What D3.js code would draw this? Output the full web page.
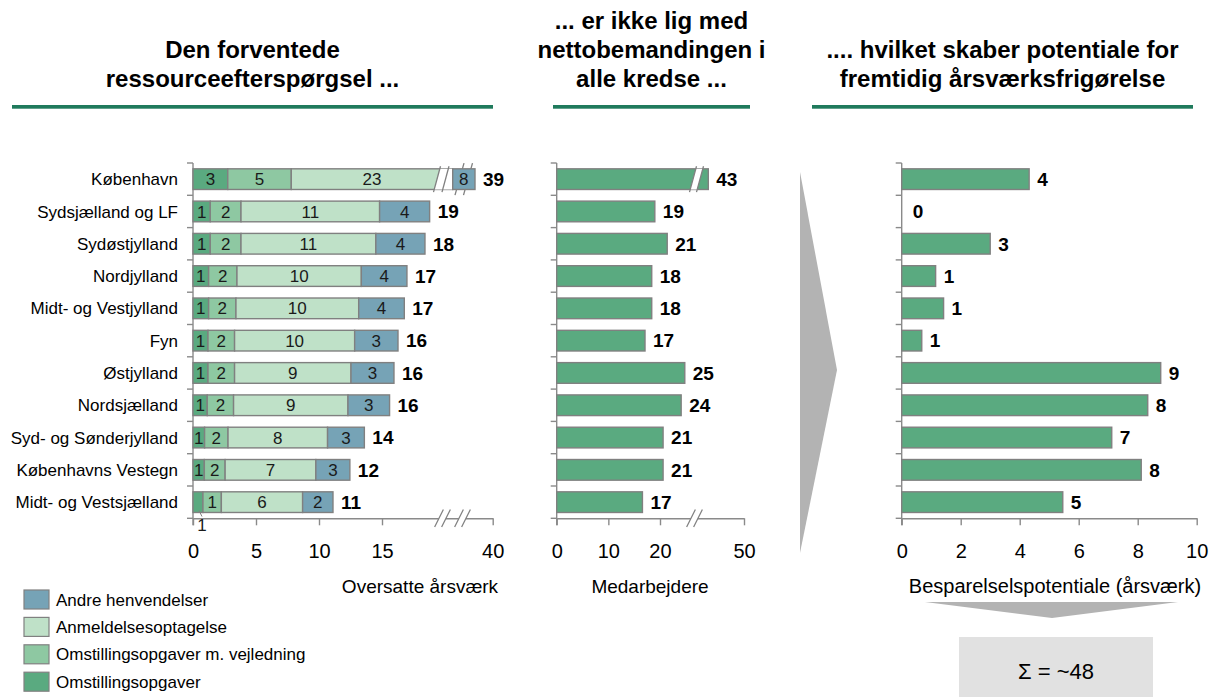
<!DOCTYPE html>
<html>
<head>
<meta charset="utf-8">
<script src="https://cdn.jsdelivr.net/npm/d3@7"></script>
<style>
  body { margin: 0; background: #fff; }
  svg { display: block; font-family: Arial, "Liberation Sans", sans-serif; }
</style>
</head>
<body>
<svg id="chart" width="1209" height="697"></svg>
<script>
// ---- data -----------------------------------------------------------
const kredse = ["København", "Sydsjælland og LF", "Sydøstjylland", "Nordjylland",
  "Midt- og Vestjylland", "Fyn", "Østjylland", "Nordsjælland",
  "Syd- og Sønderjylland", "Københavns Vestegn", "Midt- og Vestsjælland"];

// Oversatte årsværk per opgavetype
const omstilling        = [2.76, 1.37, 1.37, 1.24, 1.24, 1.19, 1.19, 1.13, 0.92, 0.90, 0.79];
const omstillingVejl    = [5.04, 2.44, 2.44, 2.25, 2.17, 2.11, 2.11, 2.09, 1.86, 1.65, 1.46];
const anmeldelse        = [23.0, 11.0, 10.7, 9.87, 9.74, 9.53, 9.24, 9.08, 7.90, 7.20, 6.45];
const andre             = [8.00, 3.97, 3.90, 3.62, 3.62, 3.44, 3.41, 3.30, 2.92, 2.70, 2.41];

// Nettobemanding (medarbejdere)
const medarbejdere      = [43, 19.0, 21.4, 18.4, 18.4, 17.1, 24.8, 24.1, 20.6, 20.6, 16.6];

// Besparelsespotentiale (årsværk)
const potentiale        = [4.32, 0, 3.0, 1.15, 1.42, 0.68, 8.78, 8.34, 7.12, 8.12, 5.46];

const serieNavne  = ["Omstillingsopgaver", "Omstillingsopgaver m. vejledning", "Anmeldelsesoptagelse", "Andre henvendelser"];
const serieFarver = ["#5aaa80", "#8ec8a2", "#bfe1c8", "#76a3b6"];

const ticksLeft  = [0, 5, 10, 15, 40];
const ticksMid   = [0, 10, 20, 50];
const ticksRight = [0, 2, 4, 6, 8, 10];

const titles = [
  { lines: ["Den forventede", "ressourceefterspørgsel ..."], x0: 12, x1: 493 },
  { lines: ["... er ikke lig med", "nettobemandingen i", "alle kredse ..."], x0: 553, x1: 750 },
  { lines: [".... hvilket skaber potentiale for", "fremtidig årsværksfrigørelse"], x0: 812, x1: 1193 }
];

// ---- setup ----------------------------------------------------------
const svg = d3.select("#chart");
const AXIS = "#8a8a8a", EDGE = "#808080", BAR = "#5aaa80";

const y = d3.scaleBand().domain(kredse).range([163, 518.3]).paddingInner(0.36).paddingOuter(0.18);
const bw = y.bandwidth(), step = y.step();
const yTop = 163, yBase = 518.3;

// broken axes: piecewise linear scales
const xL = d3.scaleLinear().domain([0, 19.5, 30.8, 38.8, 40]).range([193, 438.7, 452.7, 475, 492.7]);
const xM = d3.scaleLinear().domain([0, 25.5, 40, 50]).range([556.7, 688.4, 693, 744]);
const xR = d3.scaleLinear().domain([0, 10]).range([901.7, 1196.7]);

// ---- titles ---------------------------------------------------------
titles.forEach(t => {
  const cx = (t.x0 + t.x1) / 2;
  const n = t.lines.length;
  t.lines.forEach((ln, i) => {
    svg.append("text").attr("x", cx).attr("y", 87 - (n - 1 - i) * 29)
      .attr("text-anchor", "middle").attr("font-size", 24).attr("font-weight", "bold")
      .attr("fill", "#000").text(ln);
  });
  svg.append("rect").attr("x", t.x0).attr("y", 105).attr("width", t.x1 - t.x0).attr("height", 3.7)
    .attr("fill", "#1f7a5c");
});

// ---- helpers --------------------------------------------------------
function frame(x0) {
  svg.append("line").attr("x1", x0).attr("x2", x0).attr("y1", yTop).attr("y2", yBase + 7)
    .attr("stroke", AXIS).attr("stroke-width", 1.4);
  d3.range(12).forEach(k => {
    const yy = yTop + k * step;
    svg.append("line").attr("x1", x0 - 6).attr("x2", x0).attr("y1", yy).attr("y2", yy)
      .attr("stroke", AXIS).attr("stroke-width", 1.4);
  });
}

function xAxis(scale, ticks) {
  const g = svg.append("g").attr("transform", `translate(0,${yBase})`)
    .call(d3.axisBottom(scale).tickValues(ticks).tickSize(7).tickSizeOuter(0).tickFormat(d3.format("d")));
  g.select(".domain").attr("stroke", AXIS).attr("stroke-width", 1.4);
  g.selectAll(".tick line").attr("stroke", AXIS).attr("stroke-width", 1.4);
  g.selectAll(".tick text").attr("y", 26).attr("font-size", 20)
    .attr("font-family", "Arial, 'Liberation Sans', sans-serif").attr("fill", "#000");
  return g;
}

// pair of slanted break marks with a white gap between them
function breakPair(xa, xb, yc, half, slant, fillTo) {
  const g = svg.append("g");
  const right = fillTo !== undefined ? fillTo : xb;
  g.append("path")
    .attr("d", `M${xa + slant},${yc - half}L${right + (fillTo !== undefined ? 0 : slant)},${yc - half}` +
               `L${right - (fillTo !== undefined ? 0 : slant)},${yc + half}L${xa - slant},${yc + half}Z`)
    .attr("fill", "#fff");
  [xa, xb].forEach(xx => {
    g.append("line").attr("x1", xx + slant * 1.25).attr("y1", yc - half * 1.25)
      .attr("x2", xx - slant * 1.25).attr("y2", yc + half * 1.25)
      .attr("stroke", EDGE).attr("stroke-width", 1.3);
  });
  return g;
}

function slash(xx, yc, half, slant) {
  svg.append("line").attr("x1", xx + slant).attr("y1", yc - half)
    .attr("x2", xx - slant).attr("y2", yc + half)
    .attr("stroke", EDGE).attr("stroke-width", 1.3);
}

// ---- category labels ------------------------------------------------
svg.append("g").selectAll("text").data(kredse).join("text")
  .attr("x", 178).attr("y", d => y(d) + bw / 2).attr("dy", "0.36em")
  .attr("text-anchor", "end").attr("font-size", 17).attr("fill", "#000").text(d => d);

// ---- left panel: stacked bars --------------------------------------
frame(193);
const axL = xAxis(xL, ticksLeft);
// axis break marks
breakPair(439, 446, yBase, 7, 3.5);
breakPair(459, 466, yBase, 7, 3.5);

const keys = ["omst", "vejl", "anm", "andre"];
const rows = kredse.map((k, i) => ({
  kreds: k, omst: omstilling[i], vejl: omstillingVejl[i], anm: anmeldelse[i], andre: andre[i]
}));
const stacked = d3.stack().keys(keys)(rows);
const fmt = v => String(Math.round(v));
const maxPlain = xL.domain()[1];

function drawLayer(layer, li) {
  const g = svg.append("g");
  g.selectAll("rect").data(layer).join("rect")
    .attr("x", d => xL(d[0])).attr("y", d => y(d.data.kreds))
    .attr("width", d => xL(d[1]) - xL(d[0])).attr("height", bw)
    .attr("fill", serieFarver[li]).attr("stroke", EDGE).attr("stroke-width", 1.4);
  layer.forEach(d => {
    const x0 = xL(d[0]), x1 = xL(d[1]), cy = y(d.data.kreds) + bw / 2;
    if (x1 - x0 > 10.5) {
      g.append("text").attr("x", (x0 + x1) / 2).attr("y", cy).attr("dy", "0.36em")
        .attr("text-anchor", "middle").attr("font-size", 17).attr("fill", "#1a1a1a")
        .text(fmt(d[1] - d[0]));
    } else {
      // narrow segment: label below the bar with a short leader
      const lx = (x0 + x1) / 2 + 4;
      g.append("line").attr("x1", (x0 + x1) / 2 + 1).attr("y1", cy + bw / 2 - 2)
        .attr("x2", lx).attr("y2", cy + bw / 2 + 4).attr("stroke", EDGE).attr("stroke-width", 1);
      g.append("text").attr("x", lx).attr("y", cy + bw / 2 + 19)
        .attr("text-anchor", "middle").attr("font-size", 17).attr("fill", "#1a1a1a")
        .text(fmt(d[1] - d[0]));
    }
  });
}

stacked.slice(0, 3).forEach((layer, li) => drawLayer(layer, li));

// bars that run past the axis break
rows.forEach((r, i) => {
  const total = r.omst + r.vejl + r.anm + r.andre;
  if (total <= maxPlain) return;
  const cy = y(r.kreds) + bw / 2;
  const restart = xL(r.omst + r.vejl + r.anm);
  breakPair(437, 445.5, cy, bw / 2, 2.8, restart);
  slash(459.5, cy, 16, 4.5);
  slash(468, cy, 16, 4.5);
});

drawLayer(stacked[3], 3);

// totals
svg.append("g").selectAll("text").data(rows).join("text")
  .attr("x", d => xL(d.omst + d.vejl + d.anm + d.andre) + 8)
  .attr("y", d => y(d.kreds) + bw / 2).attr("dy", "0.36em")
  .attr("font-size", 19).attr("font-weight", "bold").attr("fill", "#000")
  .text(d => fmt(d.omst + d.vejl + d.anm + d.andre));

svg.append("text").attr("x", 420).attr("y", 593).attr("text-anchor", "middle")
  .attr("font-size", 19).attr("fill", "#000").text("Oversatte årsværk");

// ---- middle panel ---------------------------------------------------
frame(556.7);
xAxis(xM, ticksMid);
breakPair(691, 698, yBase, 7, 3.5);

const mid = kredse.map((k, i) => ({ kreds: k, v: medarbejdere[i] }));
svg.append("g").selectAll("rect").data(mid).join("rect")
  .attr("x", xM(0)).attr("y", d => y(d.kreds))
  .attr("width", d => xM(d.v) - xM(0)).attr("height", bw)
  .attr("fill", BAR).attr("stroke", EDGE).attr("stroke-width", 1.4);
mid.filter(d => d.v > xM.domain()[1]).forEach(d => {
  breakPair(693, 700, y(d.kreds) + bw / 2, bw / 2, 2.8);
});
svg.append("g").selectAll("text").data(mid).join("text")
  .attr("x", d => xM(d.v) + 8).attr("y", d => y(d.kreds) + bw / 2).attr("dy", "0.36em")
  .attr("font-size", 19).attr("font-weight", "bold").attr("fill", "#000").text(d => fmt(d.v));

svg.append("text").attr("x", 650).attr("y", 593).attr("text-anchor", "middle")
  .attr("font-size", 19).attr("fill", "#000").text("Medarbejdere");

// ---- arrow between panels ------------------------------------------
svg.append("path").attr("d", "M800,172L837,370L800,553Z").attr("fill", "#b3b3b3");

// ---- right panel ----------------------------------------------------
frame(901.7);
xAxis(xR, ticksRight);

const pot = kredse.map((k, i) => ({ kreds: k, v: potentiale[i] }));
svg.append("g").selectAll("rect").data(pot.filter(d => d.v > 0)).join("rect")
  .attr("x", xR(0)).attr("y", d => y(d.kreds))
  .attr("width", d => xR(d.v) - xR(0)).attr("height", bw)
  .attr("fill", BAR).attr("stroke", EDGE).attr("stroke-width", 1.4);
svg.append("g").selectAll("text").data(pot).join("text")
  .attr("x", d => xR(d.v) + (d.v > 0 ? 8 : 11)).attr("y", d => y(d.kreds) + bw / 2).attr("dy", "0.36em")
  .attr("font-size", 19).attr("font-weight", "bold").attr("fill", "#000").text(d => fmt(d.v));

svg.append("text").attr("x", 1055).attr("y", 593).attr("text-anchor", "middle")
  .attr("font-size", 20).attr("fill", "#000").text("Besparelselspotentiale (årsværk)");

// summary chevron and box
svg.append("path").attr("d", "M925,602L1178,602L1052,618Z").attr("fill", "#b3b3b3");
svg.append("rect").attr("x", 959).attr("y", 637).attr("width", 194).attr("height", 62).attr("fill", "#e1e1e1");
svg.append("text").attr("x", 1056).attr("y", 679).attr("text-anchor", "middle")
  .attr("font-size", 22).attr("fill", "#000")
  .text("Σ = ~" + Math.round(d3.sum(potentiale)));

// ---- legend ---------------------------------------------------------
const legendOrder = [3, 2, 1, 0];
const lg = svg.append("g");
legendOrder.forEach((si, i) => {
  const top = 590 + i * 27.4;
  lg.append("rect").attr("x", 24).attr("y", top).attr("width", 25).attr("height", 19)
    .attr("fill", serieFarver[si]).attr("stroke", EDGE).attr("stroke-width", 1.2);
  lg.append("text").attr("x", 56).attr("y", top + 9.5).attr("dy", "0.36em")
    .attr("font-size", 17).attr("fill", "#000").text(serieNavne[si]);
});
</script>
</body>
</html>
